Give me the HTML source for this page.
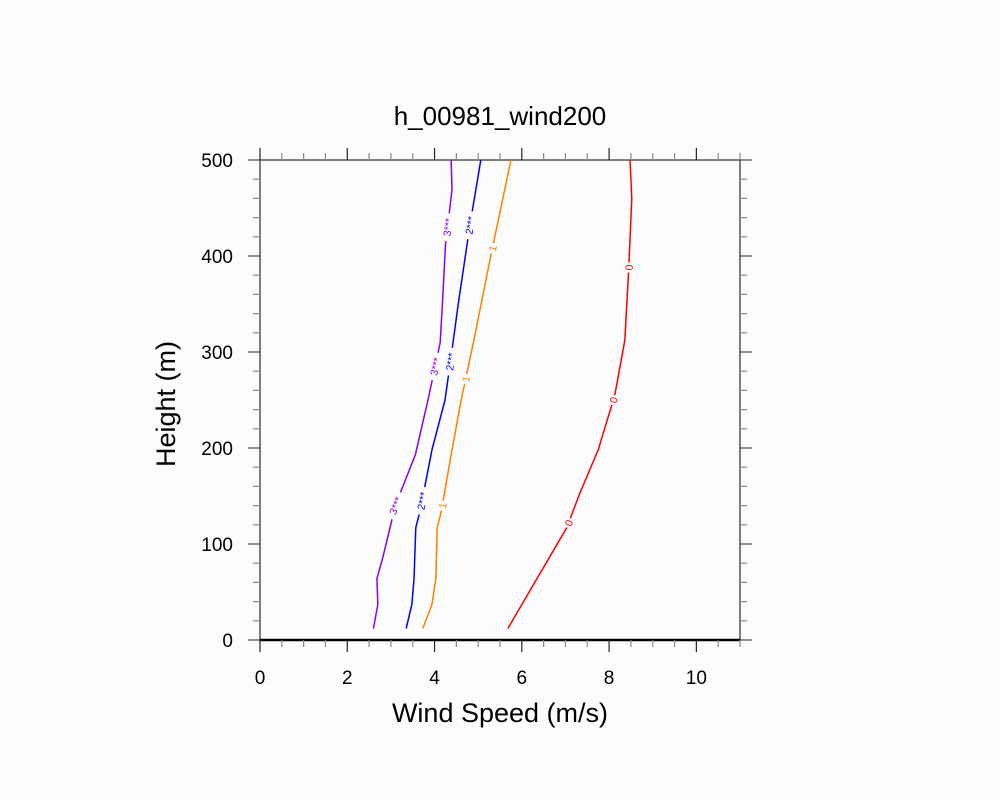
<!DOCTYPE html>
<html><head><meta charset="utf-8"><style>
html,body{margin:0;padding:0;background:#fcfcfc;}
svg{display:block;font-family:"Liberation Sans",sans-serif;}
</style></head><body>
<svg id="chart" width="1000" height="800" viewBox="0 0 1000 800">
<rect width="1000" height="800" fill="#fcfcfc"/>
<text x="500" y="125" text-anchor="middle" font-size="26">h_00981_wind200</text>
<text x="500" y="722" text-anchor="middle" font-size="27">Wind Speed (m/s)</text>
<text transform="translate(175,404) rotate(-90)" text-anchor="middle" font-size="27">Height (m)</text>
<g id="axes"></g>
<g id="lines"></g>
</svg>
<script>
const xTicks=[0,2,4,6,8,10];
const yTicks=[0,100,200,300,400,500];
const purpleX=[2.6,2.7,2.68,2.82,2.98,3.1,3.56,3.85,4.13,4.18,4.25,4.4,4.38];
const purpleH=[12,37,64,87,117,140,193,250,310,350,411,469,500];
const blueX=[3.35,3.48,3.53,3.57,3.67,3.94,4.24,4.4,4.54,4.81,5.06];
const blueH=[12,37,64,117,135,198,250,302,349,432,500];
const orangeX=[3.73,3.94,4.03,4.06,4.15,4.4,4.61,4.9,5.27,5.75];
const orangeH=[12,37,64,117,133,198,250,312,396,500];
const redX=[5.68,7.03,7.33,7.75,8.13,8.36,8.45,8.52,8.48];
const redH=[12,117,153,198,255,312,387,460,500];
const seriesColors=["#8a00f0","#0000ff","#ff8000","#ff0000"];
const seriesLabels=["3***","2***","1","0"];
const labelHeights=[[140,285,430],[145,290,432],[140,272,408],[122,250,388]];

const X0=260,X1=740,Y0=640,Y1=160;
const sx=v=>X0+(v/11)*(X1-X0);
const sy=h=>Y0-(h/500)*(Y0-Y1);
const NS="http://www.w3.org/2000/svg";
function mk(tag,attrs,parent){const e=document.createElementNS(NS,tag);for(const k in attrs)e.setAttribute(k,attrs[k]);parent.appendChild(e);return e;}
const ax=document.getElementById('axes');
const fr=mk('rect',{x:X0,y:Y1,width:X1-X0,height:Y0-Y1,fill:'none',stroke:'#555','stroke-width':1.5},ax);


const bl=mk('line',{x1:X0,y1:Y0,x2:X1,y2:Y0,stroke:'#000','stroke-width':2.5},ax);


for(let v=0;v<=11.001;v+=0.5){
  const major=Math.abs(v/2-Math.round(v/2))<1e-6;
  const L=major?12:7,x=sx(v);
  const t1=mk('line',{x1:x,y1:Y0,x2:x,y2:Y0+L,stroke:major?'#222':'#888','stroke-width':1.2},ax);
  
  
  const t2=mk('line',{x1:x,y1:Y1,x2:x,y2:Y1-L,stroke:major?'#222':'#888','stroke-width':1.2},ax);
  
  
}
for(let h=0;h<=500;h+=20){
  const major=h%100===0,L=major?12:7,y=sy(h);
  const t1=mk('line',{x1:X0,y1:y,x2:X0-L,y2:y,stroke:major?'#444':'#888','stroke-width':1.2},ax);
  
  
  const t2=mk('line',{x1:X1,y1:y,x2:X1+L,y2:y,stroke:major?'#444':'#888','stroke-width':1.2},ax);
  
  
}
xTicks.forEach(v=>{const t=mk('text',{x:sx(v),y:Y0+44,'text-anchor':'middle','font-size':19},ax);t.textContent=v;
  
  });
yTicks.forEach(h=>{const t=mk('text',{x:X0-27,y:sy(h)+7,'text-anchor':'end','font-size':19},ax);t.textContent=h;
  
  });
const lg=document.getElementById('lines');
const allX=[purpleX,blueX,orangeX,redX],allH=[purpleH,blueH,orangeH,redH];
const names=['contour-3','contour-2','contour-1','contour-0'];
function interpX(xs,hs,h){for(let i=0;i<hs.length-1;i++){if(h>=hs[i]&&h<=hs[i+1]){const f=(h-hs[i])/(hs[i+1]-hs[i]);return xs[i]+f*(xs[i+1]-xs[i]);}}return xs[xs.length-1];}
allX.forEach((xs,i)=>{
  const hs=allH[i];
  const p=mk('polyline',{points:xs.map((v,j)=>sx(v)+','+sy(hs[j])).join(' '),fill:'none',stroke:seriesColors[i],'stroke-width':1.5},lg);
  
  
  labelHeights[i].forEach(h=>{
    const x=sx(interpX(xs,hs,h)),y=sy(h);
    const x2=sx(interpX(xs,hs,h+10)),y2=sy(h+10);
    const ang=Math.atan2(y2-y,x2-x)*180/Math.PI;
    const g=mk('g',{transform:`translate(${x},${y}) rotate(${ang})`},lg);
    
    
    const w=seriesLabels[i].length*6+4;
    mk('rect',{x:-w/2,y:-6,width:w,height:12,fill:'#fcfcfc'},g);
    const t=mk('text',{x:0,y:4,'text-anchor':'middle','font-size':10.5,fill:seriesColors[i]},g);
    t.textContent=seriesLabels[i];
  });
});
</script>
</body></html>
